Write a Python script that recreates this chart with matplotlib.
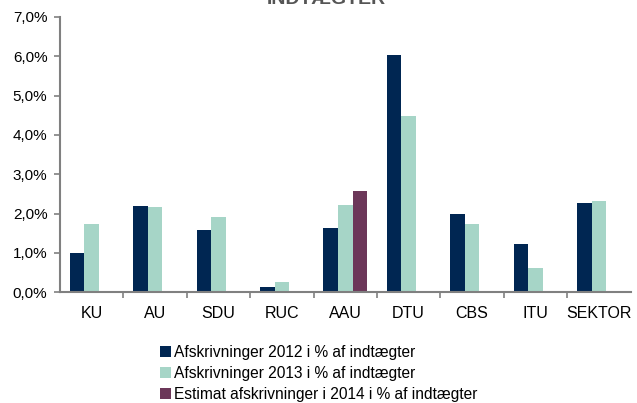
import matplotlib
matplotlib.use("Agg")
import matplotlib.pyplot as plt
import numpy as np
from matplotlib.ticker import FuncFormatter, FixedLocator

categories = ["KU", "AU", "SDU", "RUC", "AAU", "DTU", "CBS", "ITU", "SEKTOR"]
v2012 = [1.00, 2.18, 1.57, 0.12, 1.63, 6.02, 1.99, 1.22, 2.28]
v2013 = [1.73, 2.17, 1.92, 0.25, 2.22, 4.49, 1.73, 0.61, 2.32]
v2014 = [None, None, None, None, 2.58, None, None, None, None]
labels = ["Afskrivninger 2012 i % af indtægter",
          "Afskrivninger 2013 i % af indtægter",
          "Estimat afskrivninger i 2014 i % af indtægter"]
colors = ["#002652", "#a6d5c7", "#6c3759"]

plt.rcParams['font.family'] = ['Liberation Sans Narrow', 'Liberation Sans', 'DejaVu Sans']

fig = plt.figure(figsize=(6.37, 4.03), dpi=100)
ax = fig.add_axes([0.094, 0.275, 0.896, 0.683])

x = np.arange(len(categories))
w = 0.23
ax.bar(x - w, v2012, w, color=colors[0], label=labels[0])
ax.bar(x, v2013, w, color=colors[1], label=labels[1])
x14 = [xi + w for xi, v in zip(x, v2014) if v is not None]
y14 = [v for v in v2014 if v is not None]
ax.bar(x14, y14, w, color=colors[2], label=labels[2])

ax.set_xlim(-0.5, len(categories) - 0.5)
ax.set_ylim(0, 7)
ax.set_yticks(np.arange(0, 8, 1))
ax.yaxis.set_major_formatter(FuncFormatter(lambda v, p: f"{v:.1f}%".replace(".", ",")))
ax.set_xticks(x)
ax.set_xticklabels(categories)
ax.xaxis.set_minor_locator(FixedLocator(np.arange(0.5, len(categories) - 0.5, 1)))
ax.tick_params(axis='x', which='major', length=0, labelsize=11.5, pad=10, colors='#000000')
ax.tick_params(axis='x', which='minor', length=4, color='#808080', width=1.2, direction='out')
ax.tick_params(axis='y', length=4, color='#808080', width=1.2, labelsize=11, pad=5)
for s in ['top', 'right']:
    ax.spines[s].set_visible(False)
for s in ['left', 'bottom']:
    ax.spines[s].set_color('#808080')
    ax.spines[s].set_linewidth(1.5)

fig.text(0.512, 1.0, "INDTÆGTER", ha='center', va='center', fontsize=14,
         fontweight='bold', color='#555555')

ax.legend(loc='upper left', bbox_to_anchor=(0.165, -0.168), frameon=False,
          fontsize=11.2, handlelength=0.7, handleheight=0.7, handletextpad=0.2,
          labelspacing=0.4, borderaxespad=0)

fig.savefig("out.png", dpi=100)
